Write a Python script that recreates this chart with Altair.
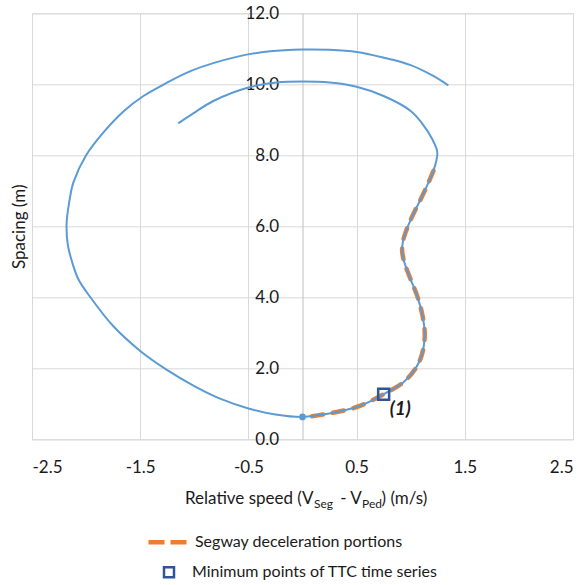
import altair as alt
import pandas as pd

# ---- data ----
spiral_x = [-1.148, -1.01, -0.824, -0.5, -0.24, 0.0, 0.25, 0.5, 0.75, 1.0, 1.10, 1.20, 1.246,
            1.21, 1.16, 1.10, 1.01, 0.955, 0.927, 0.921, 0.94, 1.0, 1.06, 1.11, 1.13, 1.10,
            1.04, 0.93, 0.75, 0.53, 0.35, 0.19, 0.0,
            -0.25, -0.5, -0.75, -1.0, -1.25, -1.5, -1.75, -1.96, -2.07, -2.13, -2.17, -2.18,
            -2.155, -2.118, -2.0,
            -1.83, -1.65, -1.47, -1.28, -1.03, -0.6, -0.3, 0.0, 0.25, 0.5, 0.75, 1.0, 1.2, 1.348]
spiral_y = [8.90, 9.18, 9.53, 9.91, 10.05, 10.08, 10.05, 9.93, 9.67, 9.25, 8.92, 8.45, 8.08,
            7.56, 7.2, 6.81, 6.25, 5.85, 5.55, 5.3, 5.0, 4.5, 4.04, 3.47, 2.91, 2.35,
            1.97, 1.6, 1.27, 0.94, 0.79, 0.70, 0.63,
            0.7, 0.87, 1.13, 1.5, 1.95, 2.49, 3.19, 4.0, 4.5, 5.0, 5.5, 6.1,
            6.7, 7.23, 8.0,
            8.68, 9.25, 9.67, 10.0, 10.38, 10.78, 10.93, 10.98, 10.97, 10.91, 10.75, 10.54, 10.25, 9.97]

decel_x = [1.21, 1.16, 1.10, 1.01, 0.955, 0.927, 0.921, 0.94, 1.0, 1.06, 1.11, 1.13, 1.10,
           1.04, 0.93, 0.75, 0.53, 0.35, 0.19, 0.06]
decel_y = [7.56, 7.2, 6.81, 6.25, 5.85, 5.55, 5.3, 5.0, 4.5, 4.04, 3.47, 2.91, 2.35,
           1.97, 1.6, 1.27, 0.94, 0.79, 0.70, 0.635]

start_x = [0.0]
start_y = [0.63]

ttc_x = [0.75]
ttc_y = [1.27]
ttc_label = ["(1)"]

x_ticks = [-2.5, -1.5, -0.5, 0.5, 1.5, 2.5]
y_ticks = [0, 2, 4, 6, 8, 10, 12]

LEG_LINE = "Segway deceleration portions"
LEG_SQ = "Minimum points of TTC time series"

FONT = "Lato"
TXT = "#1a1a1a"
BLUE = "#5B9BD5"
ORANGE = "#ED7D31"
NAVY = "#2F5597"

spiral = pd.DataFrame({"x": spiral_x, "y": spiral_y, "o": list(range(len(spiral_x)))})
decel = pd.DataFrame({"x": decel_x, "y": decel_y, "o": list(range(len(decel_x))),
                      "series": [LEG_LINE] * len(decel_x)})
start = pd.DataFrame({"x": start_x, "y": start_y})
ttc = pd.DataFrame({"x": ttc_x, "y": ttc_y, "label": ttc_label, "kind": [LEG_SQ]})

xscale = alt.Scale(domain=[-2.5, 2.5], nice=False, zero=False)
yscale = alt.Scale(domain=[0, 12], nice=False)

X = alt.X("x:Q", scale=xscale,
          axis=alt.Axis(values=x_ticks, title=None, grid=True,
                        labelExpr="(datum.value < 0 ? '-' : '') + format(abs(datum.value), '.1f')",
                        gridColor="#D9D9D9", domain=False, ticks=False,
                        labelPadding=20, labelFont=FONT, labelFontSize=17,
                        labelColor=TXT))
Y = alt.Y("y:Q", scale=yscale,
          axis=alt.Axis(values=y_ticks, format=".1f", title="Spacing (m)", grid=True,
                        gridColor="#D9D9D9", domain=True, domainColor="#BFBFBF",
                        ticks=False, offset=-270.5, labelPadding=24,
                        labelFont=FONT, labelFontSize=17, labelColor=TXT,
                        titleFont=FONT, titleFontSize=17, titleFontWeight="normal",
                        titleColor=TXT, titleX=-283.5, titleBaseline="middle"))

decel_layer = alt.Chart(decel).mark_line(
    strokeWidth=4.5, strokeDash=[11, 10], strokeCap="round", interpolate="catmull-rom"
).encode(
    x=X, y=Y, order="o:Q",
    color=alt.Color("series:N",
                    scale=alt.Scale(domain=[LEG_LINE], range=[ORANGE]),
                    legend=alt.Legend(title=None, orient="none", legendX=114, legendY=507,
                                      symbolType="stroke", symbolSize=1521,
                                      symbolDash=[16, 6], symbolStrokeWidth=4.5,
                                      symbolStrokeColor=ORANGE, labelLimit=0,
                                      labelFont=FONT, labelFontSize=16, labelColor=TXT,
                                      labelOffset=5, padding=0))
)

spiral_layer = alt.Chart(spiral).mark_line(
    strokeWidth=2, color=BLUE, interpolate="catmull-rom"
).encode(x=X, y=Y, order="o:Q")

start_layer = alt.Chart(start).mark_point(
    filled=True, color=BLUE, size=45, opacity=1
).encode(x=X, y=Y)

ttc_layer = alt.Chart(ttc).mark_point(
    filled=False, color=NAVY, strokeWidth=2.5, size=120, opacity=1
).encode(
    x=X, y=Y,
    shape=alt.Shape("kind:N", scale=alt.Scale(domain=[LEG_SQ], range=["square"]),
                    legend=alt.Legend(title=None, orient="none", legendX=129, legendY=551,
                                      symbolSize=100, symbolStrokeColor=NAVY,
                                      symbolFillColor="white", symbolStrokeWidth=2.5,
                                      labelLimit=0,
                                      labelFont=FONT, labelFontSize=16, labelColor=TXT,
                                      labelOffset=15, padding=0))
)

ttc_text = alt.Chart(ttc).mark_text(
    align="left", baseline="middle", dx=6, dy=15, font=FONT, fontSize=19,
    fontWeight="bold", fontStyle="italic", color=TXT
).encode(x=X, y=Y, text="label:N")

# x-axis title with subscripts, built from text pieces
one = pd.DataFrame({"d": [0]})
def piece(txt, px, size, align, base_y):
    return alt.Chart(one).mark_text(
        text=txt, align=align, baseline="alphabetic", font=FONT, fontSize=size, color=TXT
    ).encode(x=alt.value(px - 32), y=alt.value(base_y - 13.3))

title_layers = [
    piece("Relative speed (V", 313.5, 17, "right", 504),
    piece("Seg", 314, 12, "left", 508.5),
    piece("- V", 361.7, 17, "right", 504),
    piece("Ped", 362, 12, "left", 508.5),
    piece(") (m/s)", 381.5, 17, "left", 504),
]

chart = alt.layer(
    decel_layer, spiral_layer, start_layer, ttc_layer, ttc_text, *title_layers
).resolve_scale(color="independent", shape="independent").properties(
    width=541, height=426,
    autosize=alt.AutoSizeParams(type="none"),
    padding={"left": 32, "top": 13.3, "right": 12, "bottom": 146},
).configure_view(stroke=None).configure(background="white")

chart.save("out.html", embed_options={"renderer": "svg", "actions": False})
